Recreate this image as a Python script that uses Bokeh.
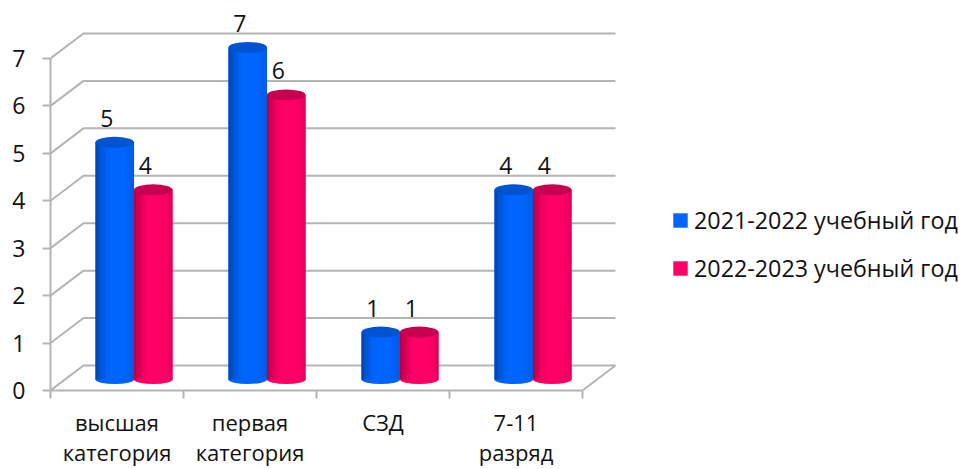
from bokeh.plotting import figure
from bokeh.embed import file_html
from bokeh.resources import INLINE
from bokeh.models import FixedTicker, Legend, LegendItem, Range1d
from bokeh.core.properties import value

categories = ["высшая\nкатегория", "первая\nкатегория", "СЗД", "7-11\nразряд"]
series_a_name = "2021-2022 учебный год"
series_b_name = "2022-2023 учебный год"
series_a = [5, 7, 1, 4]
series_b = [4, 6, 1, 4]
y_ticks = [0, 1, 2, 3, 4, 5, 6, 7]

FONT = "Open Sans"
UX, UY = 133.0, 47.43      # pixels per data unit
FL, FW, FH = 50, 912, 390  # frame left, width, height
DX, DY = 33 / UX, 25 / UY  # depth of the 3-D walls
BAR_DX, BAR_DY = 17 / UX, 11 / UY
BW = 38.5 / UX
GRID = "#b4b4b4"

p = figure(frame_width=FW, frame_height=FH, output_backend="svg", toolbar_location=None,
           min_border_left=FL, min_border_right=0, min_border_top=0, min_border_bottom=0)
p.x_range = Range1d(0, FW / UX)
p.y_range = Range1d(0, FH / UY)
p.outline_line_color = None
p.grid.visible = False

# walls
n_cat = len(categories)
xs, ys = [], []
for t in y_ticks:
    xs.append([0, DX, n_cat + DX])
    ys.append([t, t + DY, t + DY])
xs.append([n_cat, n_cat + DX])
ys.append([0, DY])
p.multi_line(xs, ys, line_color=GRID, line_width=2)

xa = p.xaxis[0]
xa.ticker = FixedTicker(ticks=[i + 0.5 for i in range(n_cat)], minor_ticks=list(range(n_cat + 1)))
xa.major_label_overrides = {i + 0.5: c for i, c in enumerate(categories)}
xa.bounds = (0, n_cat)
xa.major_tick_line_color = None
xa.minor_tick_line_color = GRID
xa.minor_tick_line_width = 2
xa.minor_tick_out = 8
xa.minor_tick_in = 0
xa.axis_line_color = GRID
xa.axis_line_width = 2
xa.major_label_standoff = 8
xa.major_label_text_font = FONT
xa.major_label_text_font_size = "22px"
xa.major_label_text_color = "#111111"
xa.major_label_text_line_height = 1.0

ya = p.yaxis[0]
ya.ticker = FixedTicker(ticks=y_ticks)
ya.minor_tick_line_color = None
ya.bounds = (0, 7)
ya.major_tick_line_color = GRID
ya.major_tick_line_width = 2
ya.major_tick_out = 8
ya.major_tick_in = 0
ya.axis_line_color = GRID
ya.axis_line_width = 2
ya.major_label_standoff = 17
ya.major_label_text_font = FONT
ya.major_label_text_font_size = "23px"
ya.major_label_text_color = "#111111"


def shade(c, k):
    return "#%02x%02x%02x" % tuple(int(round(v * k)) for v in c)


PROFILE = [0.72, 0.78, 0.84, 0.90, 0.95, 0.98, 1, 1, 1, 1, 1, 1, 0.98, 0.96, 0.93, 0.90]


def cylinder(x0, vals, rgb, top_k):
    base = p.vbar(x=x0, top=[v + BAR_DY for v in vals], bottom=BAR_DY, width=BW,
                  fill_color=shade(rgb, 1), line_color=None)
    p.ellipse(x=x0, y=[BAR_DY] * len(vals), width=BW, height=9 / UY,
              fill_color=shade(rgb, 0.98), line_color=None)
    n = len(PROFILE)
    for i, k in enumerate(PROFILE):
        sw = BW / n
        p.vbar(x=[x - BW / 2 + sw * (i + 0.5) for x in x0], top=[v + BAR_DY for v in vals],
               bottom=BAR_DY, width=sw * 1.05, fill_color=shade(rgb, k), line_color=None)
    p.ellipse(x=x0, y=[v + BAR_DY for v in vals], width=BW, height=11 / UY,
              fill_color=shade(rgb, top_k), line_color=None)
    return base


centers = [i + 0.5 + BAR_DX for i in range(n_cat)]
xa_pos = [c - BW / 2 for c in centers]
xb_pos = [c + BW / 2 for c in centers]
r_a = cylinder(xa_pos, series_a, (0, 102, 255), 0.82)
r_b = cylinder(xb_pos, series_b, (255, 0, 102), 0.78)

for xp, vals in ((xa_pos, series_a), (xb_pos, series_b)):
    p.text(x=xp, y=vals, text=[str(v) for v in vals], text_align="center", text_baseline="alphabetic",
           x_offset=-8, y_offset=-35, text_font=value(FONT), text_font_size="23px", text_color="#111111")

legend = Legend(items=[LegendItem(label=series_a_name, renderers=[r_a]),
                       LegendItem(label=series_b_name, renderers=[r_b])],
                location=(671 - FL, 106), orientation="vertical",
                padding=0, margin=0, spacing=16, glyph_width=18, glyph_height=18,
                label_standoff=5, label_height=22, border_line_color=None,
                background_fill_alpha=0, label_text_font=FONT, label_text_font_size="23.3px",
                label_text_color="#111111")
p.add_layout(legend)

open("out.html", "w").write(file_html(p, INLINE))
